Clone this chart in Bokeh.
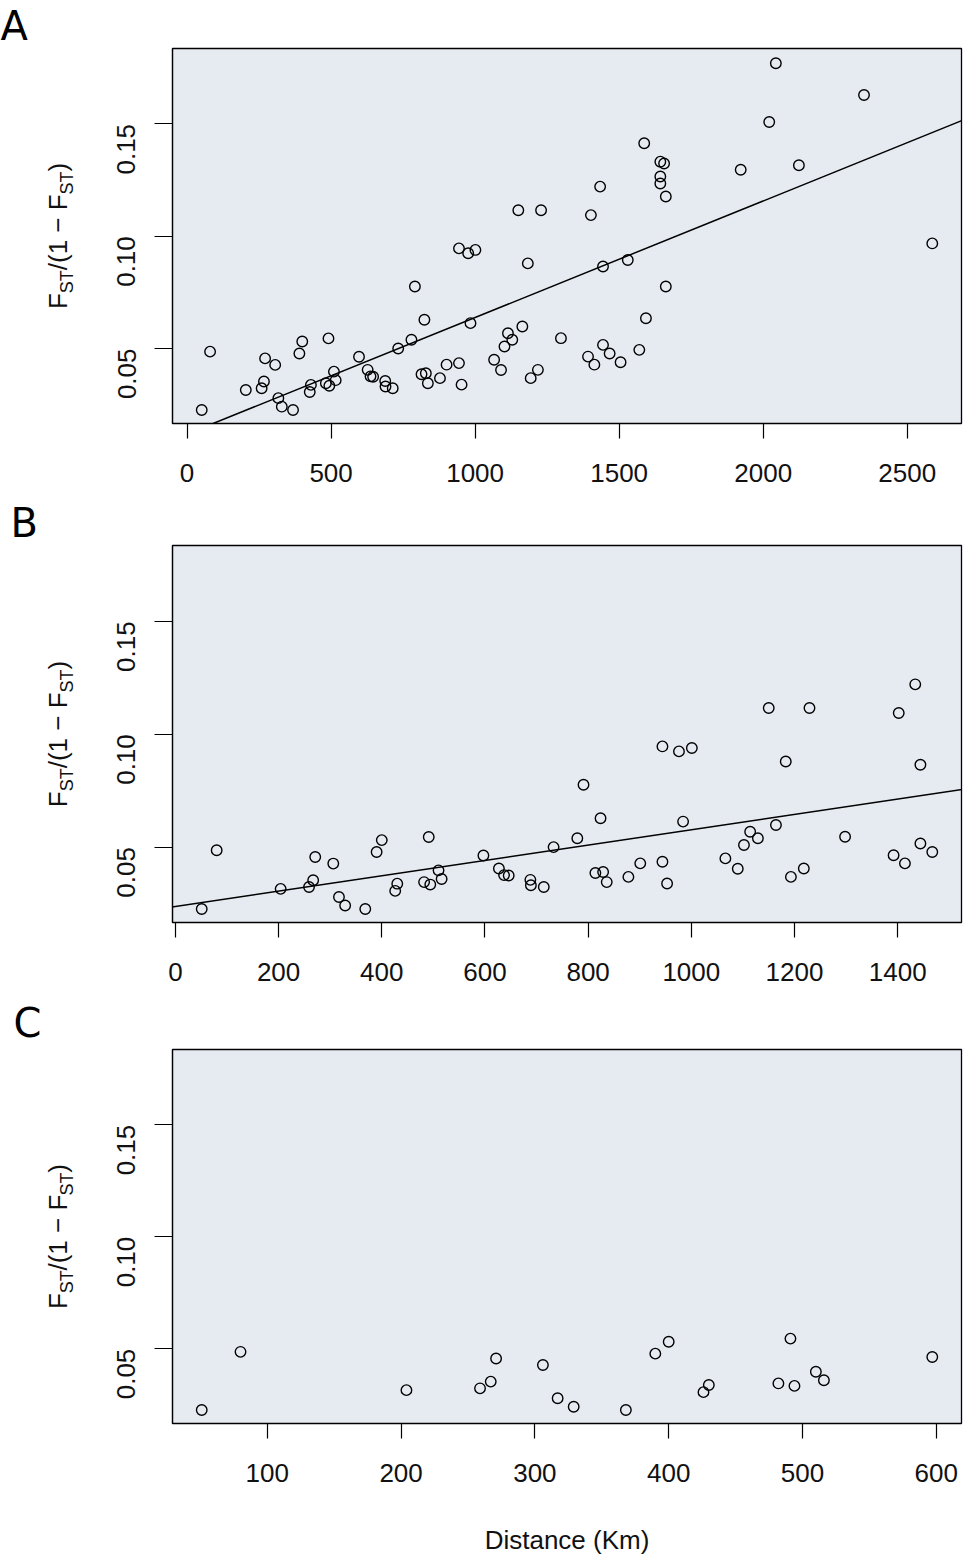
import math
from bokeh.plotting import figure
from bokeh.models import Range1d, FixedTicker, PrintfTickFormatter, Slope
from bokeh.layouts import column, row
from bokeh.core.properties import value
from bokeh.embed import file_html
from bokeh.resources import INLINE

# ---- data (distance in km, Fst/(1-Fst)) ----
distance_km = [
    51, 80, 204, 259, 267, 271, 306, 317, 329, 368,
    390, 400, 430, 426, 482, 494, 491, 510, 516, 597,
    627, 637, 646, 688, 689, 714, 733, 779, 791, 824,
    814, 829, 836, 878, 901, 944, 953, 944, 976, 1001,
    984, 1066, 1090, 1102, 1114, 1129, 1164, 1150, 1229, 1183,
    1193, 1218, 1298, 1392, 1414, 1444, 1467, 1444, 1402, 1434,
    1505, 1570, 1593, 1662, 1530, 1587, 1643, 1656, 1643, 1643,
    1662, 1922, 2021, 2044, 2124, 2350, 2587,
]
fst_ratio = [
    0.0226, 0.0486, 0.0315, 0.0323, 0.0353, 0.0456, 0.0427, 0.0279, 0.0241, 0.0226,
    0.0478, 0.0531, 0.0338, 0.0306, 0.0345, 0.0334, 0.0545, 0.0397, 0.0359, 0.0463,
    0.0405, 0.0376, 0.0374, 0.0355, 0.0331, 0.0323, 0.0500, 0.0539, 0.0776, 0.0628,
    0.0385, 0.0390, 0.0345, 0.0368, 0.0428, 0.0435, 0.0339, 0.0946, 0.0924, 0.0939,
    0.0613, 0.0450, 0.0404, 0.0509, 0.0568, 0.0539, 0.0598, 0.1116, 0.1116, 0.0879,
    0.0368, 0.0405, 0.0546, 0.0464, 0.0428, 0.0516, 0.0478, 0.0865, 0.1094, 0.1221,
    0.0439, 0.0494, 0.0635, 0.0776, 0.0894, 0.1414, 0.1332, 0.1324, 0.1266, 0.1235,
    0.1177, 0.1296, 0.1509, 0.1770, 0.1316, 0.1629, 0.0968,
]

panel_letters = ["A", "B", "C"]
panel_max_distance = [3000, 1500, 600]
x_ticks = [
    [0, 500, 1000, 1500, 2000, 2500],
    [0, 200, 400, 600, 800, 1000, 1200, 1400],
    [100, 200, 300, 400, 500, 600],
]
y_ticks = [0.05, 0.10, 0.15]
y_limits = [0.0166, 0.1836]
fit_intercept = [0.0119, 0.0237, None]
fit_slope = [5.19e-5, 3.40e-5, None]
x_axis_title = "Distance (Km)"

# ---- layout (pixels) ----
TOTAL_W = 963
SIDE_W = 90            # narrow strip holding panel letter + y title
LEFT = 82              # border left of frame in the main figure
FRAME_W = 789
RIGHT = TOTAL_W - SIDE_W - LEFT - FRAME_W
tops = [47, 52, 56]
frame_hs = [376, 377, 378]
bottoms = [70, 71, 130]
letter_offset = [0, 10, 13]
letter_standoff = [0, 0, 8]

BG = "#E6EAF1"
INK = "#111111"
TICK_FONT = "Liberation Sans"

rows = []
for i, letter in enumerate(panel_letters):
    xs = [d for d in distance_km if d <= panel_max_distance[i]]
    ys = [f for d, f in zip(distance_km, fst_ratio) if d <= panel_max_distance[i]]
    span = max(xs) - min(xs)
    xr = Range1d(min(xs) - 0.04 * span, max(xs) + 0.04 * span)
    yr = Range1d(y_limits[0], y_limits[1])
    top, fh, bot = tops[i], frame_hs[i], bottoms[i]
    H = top + fh + bot

    p = figure(width=TOTAL_W - SIDE_W, height=H, x_range=xr, y_range=yr,
               output_backend="svg", toolbar_location=None,
               min_border_left=LEFT, min_border_right=RIGHT,
               min_border_top=top, min_border_bottom=bot)
    p.background_fill_color = BG
    p.border_fill_color = "white"
    p.outline_line_color = "black"
    p.outline_line_width = 1.3
    p.grid.visible = False

    for ax in (p.xaxis[0], p.yaxis[0]):
        ax.axis_line_color = "black"
        ax.axis_line_width = 1.2
        ax.major_tick_line_color = "black"
        ax.major_tick_line_width = 1.2
        ax.major_tick_in = 0
        ax.minor_tick_line_color = None
        ax.major_label_text_font = TICK_FONT
        ax.major_label_text_color = INK

    p.xaxis.ticker = FixedTicker(ticks=x_ticks[i])
    p.xaxis.major_tick_out = 15
    p.xaxis.major_label_standoff = 25
    p.xaxis.major_label_text_font_size = "26px"

    p.yaxis.ticker = FixedTicker(ticks=y_ticks)
    p.yaxis.formatter = PrintfTickFormatter(format="%.2f")
    p.yaxis.major_tick_out = 18
    p.yaxis.major_label_standoff = 28
    p.yaxis.major_label_orientation = math.pi / 2
    p.yaxis.major_label_text_font_size = "26px"

    if i == len(panel_letters) - 1:
        p.xaxis.axis_label = x_axis_title
        p.xaxis.axis_label_text_font = TICK_FONT
        p.xaxis.axis_label_text_font_size = "26px"
        p.xaxis.axis_label_text_font_style = "normal"
        p.xaxis.axis_label_text_color = INK
        p.xaxis.axis_label_standoff = 40

    p.scatter(xs, ys, marker="circle", size=10.5, fill_color=None,
              line_color="black", line_width=1.4)

    if fit_slope[i] is not None:
        p.add_layout(Slope(gradient=fit_slope[i], y_intercept=fit_intercept[i],
                           line_color="black", line_width=1.5))

    # side strip: same borders as the main figure; data units = pixels,
    # y measured upward from the bottom of the strip
    s = figure(width=SIDE_W, height=H, x_range=Range1d(0, SIDE_W),
               y_range=Range1d(bot, H - top), output_backend="svg",
               toolbar_location=None, x_axis_type=None, y_axis_type=None,
               min_border_left=0, min_border_right=0,
               min_border_top=top, min_border_bottom=bot, title=letter)
    s.outline_line_color = None
    s.grid.visible = False
    s.background_fill_color = "white"
    s.border_fill_color = "white"
    s.title.text_font = "DejaVu Sans"
    s.title.text_font_size = "40px"
    s.title.text_font_style = "normal"
    s.title.text_color = "black"
    s.title.align = "left"
    s.title.offset = letter_offset[i]
    s.title.standoff = letter_standoff[i]

    # y-axis title F_ST / (1 - F_ST), composed and rotated
    main_fs, sub_fs = 26, 18
    pieces = [
        ("F", main_fs, 0.611 * main_fs, False),
        ("ST", sub_fs, 1.278 * sub_fs, True),
        ("/", main_fs, 0.278 * main_fs, False),
        ("(1 \u2212 F", main_fs, 2.64 * main_fs, False),
        ("ST", sub_fs, 1.278 * sub_fs, True),
        (")", main_fs, 0.333 * main_fs, False),
    ]
    total = sum(w for _, _, w, _ in pieces)
    start = top + fh / 2 + total / 2      # bottom end of the title (from top)
    offs = 0.0
    for txt, fs, w, is_sub in pieces:
        bx = 66 if is_sub else 57
        s.text(x=[bx], y=[H - (start - offs)], text=[txt], angle=math.pi / 2,
               text_font=value(TICK_FONT), text_font_size=value(f"{fs}px"),
               text_color=INK, text_align="left", text_baseline="alphabetic")
        offs += w

    rows.append(row(s, p, spacing=0))

layout = column(*rows, spacing=0)
open("out.html", "w").write(file_html(layout, INLINE))
